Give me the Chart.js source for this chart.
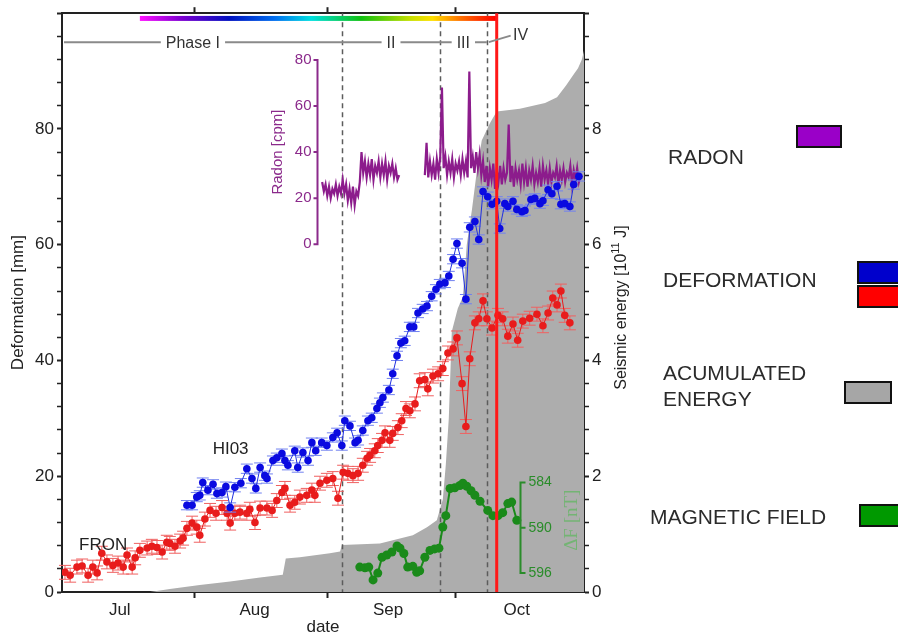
<!DOCTYPE html>
<html>
<head>
<meta charset="utf-8">
<title>Deformation, radon, magnetic field and seismic energy</title>
<script src="https://cdn.jsdelivr.net/npm/chart.js@4.4.1/dist/chart.umd.min.js"></script>
<style>
  html, body { margin: 0; padding: 0; background: #fff; }
  #wrap { position: relative; width: 898px; height: 638px; overflow: hidden; font-family: "Liberation Sans", Arial, sans-serif; }
  #chart { position: absolute; left: 0; top: 0; }
  .lg-text { position: absolute; font-size: 21px; line-height: 26px; color: #2b2b2b; white-space: nowrap; }
  .lg-box { position: absolute; box-sizing: border-box; border: 2px solid #111; height: 23px; }
</style>
</head>
<body>
<div id="wrap">
  <canvas id="chart" width="898" height="638"></canvas>

  <div class="lg-text" style="left:668px;top:144px">RADON</div>
  <div class="lg-box" style="left:796px;top:125px;width:46px;background:#9a00c8"></div>

  <div class="lg-text" style="left:663px;top:267px">DEFORMATION</div>
  <div class="lg-box" style="left:857px;top:261px;width:46px;background:#0000cc"></div>
  <div class="lg-box" style="left:857px;top:285px;width:46px;background:#ff0000"></div>

  <div class="lg-text" style="left:663px;top:360px">ACUMULATED<br>ENERGY</div>
  <div class="lg-box" style="left:844px;top:381px;width:48px;background:#a6a6a6"></div>

  <div class="lg-text" style="left:650px;top:504px">MAGNETIC FIELD</div>
  <div class="lg-box" style="left:859px;top:504px;width:46px;background:#009900"></div>
</div>

<script>
// days counted from 1 July
const monthNames = ['Jul', 'Aug', 'Sep', 'Oct'];
const monthLabelDays = [13.5, 45, 76.2, 106.3];
const monthBoundaries = [31, 62, 92];

// phases
const phaseBoundaries = [65.4, 88.3, 99.3];
const phaseNames = ['Phase I', 'II', 'III'];
const phaseLabelDays = [30.6, 76.9, 93.8];
const phaseLevel = 95;
const ivLabelDay = 107.2;
const ivLabelLevel = 96.3;
const eventDay = 101.6;
const colorBarStart = 18.2;
const colorBarLevel = 99.1;

// FRON station (red)
const redDays = [0.7,1.9,3.5,4.7,6.1,7.2,8.2,9.3,10.5,11.9,
  13.1,14.3,15.2,16.4,17.1,18.2,19.9,21.0,22.2,23.4,
  24.5,25.2,26.4,27.6,28.3,29.2,30.4,31.5,32.2,33.4,
  34.6,36.0,37.4,38.6,39.3,40.4,41.6,43.2,43.9,45.1,
  46.3,47.9,49.1,50.2,51.4,52.1,53.3,54.4,55.6,57.2,
  58.4,59.1,60.3,61.9,63.3,64.5,65.7,66.8,68.0,69.2,
  70.3,71.3,72.0,73.1,73.8,74.8,75.5,76.6,77.3,78.5,
  79.4,80.4,81.3,82.5,83.6,84.8,85.5,86.7,87.9,89.0,
  90.2,91.4,92.3,93.5,94.4,95.3,96.5,97.4,98.4,99.3,
  100.5,101.9,103.0,104.2,105.4,106.5,107.7,109.3,111.0,112.4,
  113.6,114.7,115.7,116.6,117.5,118.7];
const redValues = [3.4,2.9,4.3,4.5,2.9,4.3,3.3,6.7,5.2,4.6,
  5.0,4.3,6.4,4.3,5.9,7.2,7.6,7.9,7.7,6.9,
  8.6,8.4,7.9,8.8,9.3,11.0,11.9,11.2,9.8,12.6,
  14.1,13.6,14.6,13.6,11.9,13.6,13.8,13.6,14.3,12.0,
  14.5,14.5,14.1,15.8,17.2,17.9,15.0,15.5,16.4,16.7,
  17.6,16.7,18.8,19.3,19.6,16.2,20.7,20.5,20.1,20.5,
  21.9,23.1,23.6,24.4,25.3,26.2,27.5,26.2,27.4,28.4,
  29.6,31.7,31.3,32.5,36.5,36.7,35.1,37.3,37.7,38.6,
  41.3,42.0,43.9,36.0,28.6,40.3,46.5,47.2,50.3,47.2,
  45.6,47.8,47.2,44.2,46.3,43.5,46.8,47.3,48.0,46.0,
  48.2,50.8,49.6,52.0,47.8,46.5];
const redError = 1.2;

// HI03 station (blue)
const blueDays = [29.2,30.4,31.5,32.2,32.9,34.1,35.3,36.2,37.4,38.3,
  39.3,40.4,41.8,43.2,44.4,45.3,46.3,47.4,47.9,49.3,
  50.2,51.4,52.1,52.8,54.4,55.1,56.3,57.5,58.4,59.3,
  60.7,61.9,63.3,64.3,65.4,66.1,67.3,68.5,69.2,70.3,
  71.5,72.4,73.6,74.3,75.0,76.4,77.3,78.3,79.2,80.1,
  81.3,82.2,83.2,84.3,85.3,86.4,87.4,88.3,89.5,90.4,
  91.4,92.3,93.5,94.4,95.3,96.5,97.4,98.4,99.5,100.5,
  101.6,102.3,103.5,104.2,105.4,106.3,107.5,108.2,109.6,110.5,
  111.7,112.4,113.6,114.5,115.7,116.6,117.5,118.7,119.6,120.8];
const blueValues = [15.0,15.0,16.4,16.7,18.9,17.6,18.6,17.0,17.2,18.2,
  14.6,18.1,18.8,21.3,19.6,17.9,21.5,20.1,19.6,22.7,
  23.2,23.9,22.7,21.9,24.4,21.5,24.1,22.7,25.8,24.4,
  25.8,25.3,26.7,27.5,25.3,29.6,28.7,25.8,26.2,27.9,
  29.6,30.1,31.7,32.7,33.6,34.9,37.7,40.8,43.0,43.4,
  45.8,45.8,48.2,48.9,49.4,51.1,52.3,53.2,53.4,54.6,
  57.5,60.2,56.8,50.6,63.0,64.0,60.9,69.2,68.3,67.0,
  67.5,62.8,67.1,66.6,67.5,66.1,65.7,65.9,67.8,68.0,
  67.1,67.6,69.5,68.8,70.1,67.0,67.1,66.6,70.4,71.8];
const blueError = 0.8;

// accumulated seismic energy [10^11 J]
const energyDays = [20.6,25.2,32.2,39.3,46.3,51.6,52.3,55.6,62.6,65.0,
  65.4,74.3,82.0,85.3,87.6,89.0,89.7,90.4,91.1,92.5,
  93.7,94.6,95.8,97.0,98.1,100.0,101.6,107.0,112.9,115.7,
  117.8,119.2,120.6,121.5,122];
const energyValues = [0,0.05,0.12,0.18,0.25,0.30,0.58,0.60,0.67,0.70,
  0.81,0.84,0.98,1.12,1.24,1.6,2.2,3.0,4.5,4.9,
  5.1,6.0,6.6,7.3,7.8,8.1,8.3,8.35,8.45,8.55,
  8.75,8.9,9.05,9.2,9.35];

// radon [cpm], sampled every 0.4 day, two records with a gap
const radonStep = 0.4;
const radonStart1 = 60.8;
const radon1 = [27,23,26,21,25,20,24,22,26,21,25,22,28,
  22,26,19,24,18,25,17,23,21,27,40,
  31,36,29,35,30,37,28,34,31,36,29,35,30,36,28,34,31,35,29,33,28,30];
const radonStart2 = 84.8;
const radon2 = [30,44,29,36,30,35,28,37,31,38,68,
  33,38,30,36,31,37,29,35,32,
  36,30,37,31,36,29,75,33,38,
  31,40,33,39,30,36,
  27,34,25,33,28,35,24,32,27,34,26,33,28,31,
  52,
  27,34,25,33,28,32,26,35,27,33,25,32,28,34,26,31,27,33,25,34,
  28,32,26,33,27,31,29,34,26,32,28,33,27,31,29,34,26,32,28,33,27,30,29];
const radonTicks = [0, 20, 40, 60, 80];
const radonAxisDay = 59.6;

// magnetic field ΔF [nT]
const magDays = [69.6,70.8,71.7,72.7,73.8,74.8,75.9,77.1,78.3,79.0,
  79.9,80.8,82.0,82.9,83.6,84.8,86.0,87.1,88.1,89.0,
  89.7,90.7,91.8,93.0,93.7,94.6,95.6,96.5,97.7,99.5,
  100.7,101.9,103.0,104.2,105.1,106.3];
const magValues = [595.2,595.3,595.2,596.9,596.0,593.9,593.6,593.2,592.4,592.7,
  593.4,595.2,595.1,595.9,595.7,593.9,593.0,592.8,592.7,589.9,
  588.4,584.8,584.7,584.4,584.1,584.5,585.1,585.7,586.5,587.7,
  588.4,588.4,588.0,586.8,586.6,589.0];
const magTicks = [584, 590, 596];
const magAxisDay = 107.0;

const stationLabels = [
  { text: 'FRON', day: 9.6, level: 8.1 },
  { text: 'HI03', day: 39.4, level: 24.7 }
];

const FONT = '"Liberation Sans", Arial, sans-serif';
Chart.defaults.font.family = FONT;
Chart.defaults.color = '#222';

const toPoints = (days, vals) => days.map((d, i) => ({ x: d, y: vals[i] }));
const radonPoints = radon1.map((v, i) => ({ x: radonStart1 + i * radonStep, y: v }))
  .concat([{ x: (radonStart1 + radon1.length * radonStep + radonStart2) / 2, y: null }])
  .concat(radon2.map((v, i) => ({ x: radonStart2 + i * radonStep, y: v })));

// error bars under the deformation points
const errorBars = {
  id: 'errorBars',
  beforeDatasetDraw(chart, args) {
    const ds = chart.data.datasets[args.index];
    if (!ds.errorBar) return;
    const ys = chart.scales[args.meta.yAxisID];
    const ctx = chart.ctx;
    ctx.save();
    ctx.strokeStyle = ds.errorColor;
    ctx.lineWidth = 1;
    args.meta.data.forEach((pt, i) => {
      const v = ds.data[i].y;
      const t = ys.getPixelForValue(v + ds.errorBar);
      const b = ys.getPixelForValue(v - ds.errorBar);
      ctx.beginPath();
      ctx.moveTo(pt.x, t); ctx.lineTo(pt.x, b);
      ctx.moveTo(pt.x - 6, t); ctx.lineTo(pt.x + 6, t);
      ctx.moveTo(pt.x - 6, b); ctx.lineTo(pt.x + 6, b);
      ctx.stroke();
    });
    ctx.restore();
  }
};

const annotations = {
  id: 'annotations',
  afterDatasetDraw(chart, args) {
    if (args.index !== 0) return; // right after the energy area
    const { ctx, chartArea, scales: { x } } = chart;
    ctx.save();
    ctx.strokeStyle = '#5c5c5c';
    ctx.lineWidth = 1.5;
    ctx.setLineDash([5, 4]);
    phaseBoundaries.forEach(d => {
      const px = Math.round(x.getPixelForValue(d)) + 0.5;
      ctx.beginPath();
      ctx.moveTo(px, chartArea.top);
      ctx.lineTo(px, chartArea.bottom);
      ctx.stroke();
    });
    ctx.restore();
  },
  afterDatasetsDraw(chart) {
    const { ctx, chartArea, scales } = chart;
    const x = scales.x, y = scales.y;
    ctx.save();

    // colour bar
    const x0 = x.getPixelForValue(colorBarStart), x1 = x.getPixelForValue(eventDay);
    const grad = ctx.createLinearGradient(x0, 0, x1, 0);
    grad.addColorStop(0, '#ff10ff');
    grad.addColorStop(0.12, '#7a00d0');
    grad.addColorStop(0.25, '#0010c0');
    grad.addColorStop(0.38, '#0070f0');
    grad.addColorStop(0.48, '#00e0e0');
    grad.addColorStop(0.62, '#10c010');
    grad.addColorStop(0.76, '#c8e000');
    grad.addColorStop(0.82, '#ffe000');
    grad.addColorStop(0.9, '#ff7000');
    grad.addColorStop(1, '#ff0000');
    ctx.fillStyle = grad;
    const cy = y.getPixelForValue(colorBarLevel);
    ctx.fillRect(x0, cy - 2.5, x1 - x0, 5);

    // event line
    ctx.strokeStyle = '#ff1818';
    ctx.lineWidth = 3;
    const ex = x.getPixelForValue(eventDay);
    ctx.beginPath();
    ctx.moveTo(ex, chartArea.top);
    ctx.lineTo(ex, chartArea.bottom);
    ctx.stroke();

    // phase line with labels
    const py = y.getPixelForValue(phaseLevel);
    ctx.strokeStyle = '#8a8a8a';
    ctx.lineWidth = 2;
    ctx.beginPath();
    ctx.moveTo(chartArea.left + 2, py);
    ctx.lineTo(x.getPixelForValue(phaseBoundaries[2]), py);
    ctx.stroke();
    ctx.font = '16px ' + FONT;
    ctx.textAlign = 'center';
    ctx.textBaseline = 'middle';
    phaseNames.forEach((t, i) => {
      const lx = x.getPixelForValue(phaseLabelDays[i]);
      const w = ctx.measureText(t).width;
      ctx.fillStyle = '#fff';
      ctx.fillRect(lx - w / 2 - 5, py - 9, w + 10, 18);
      ctx.fillStyle = '#333';
      ctx.fillText(t, lx, py + 1);
    });
    const ivx = x.getPixelForValue(ivLabelDay), ivy = y.getPixelForValue(ivLabelLevel);
    ctx.beginPath();
    ctx.moveTo(x.getPixelForValue(phaseBoundaries[2]) + 2, py);
    ctx.lineTo(ivx - 10, ivy + 1);
    ctx.stroke();
    ctx.fillStyle = '#333';
    ctx.fillText('IV', ivx, ivy + 1);

    // station labels
    ctx.font = '17px ' + FONT;
    ctx.fillStyle = '#222';
    stationLabels.forEach(l => ctx.fillText(l.text, x.getPixelForValue(l.day), y.getPixelForValue(l.level)));

    // radon inset axis
    const rs = scales.yR;
    const rx = Math.round(x.getPixelForValue(radonAxisDay)) + 0.5;
    ctx.strokeStyle = '#8b2a8b';
    ctx.fillStyle = '#8b2a8b';
    ctx.lineWidth = 2;
    ctx.beginPath();
    ctx.moveTo(rx, rs.getPixelForValue(radonTicks[0]) + 1);
    ctx.lineTo(rx, rs.getPixelForValue(radonTicks[radonTicks.length - 1]) - 1);
    radonTicks.forEach(v => {
      const ty = rs.getPixelForValue(v);
      ctx.moveTo(rx, ty); ctx.lineTo(rx - 4, ty);
    });
    ctx.stroke();
    ctx.font = '15px ' + FONT;
    ctx.textAlign = 'right';
    radonTicks.forEach(v => ctx.fillText(String(v), rx - 6, rs.getPixelForValue(v)));
    ctx.save();
    ctx.translate(rx - 40, rs.getPixelForValue(40));
    ctx.rotate(-Math.PI / 2);
    ctx.textAlign = 'center';
    ctx.fillText('Radon [cpm]', 0, 0);
    ctx.restore();

    // magnetic inset axis
    const ms = scales.yM;
    const mx = Math.round(x.getPixelForValue(magAxisDay)) + 0.5;
    ctx.strokeStyle = '#2a8c2a';
    ctx.fillStyle = '#2a8c2a';
    ctx.beginPath();
    ctx.moveTo(mx, ms.getPixelForValue(magTicks[0]) - 1);
    ctx.lineTo(mx, ms.getPixelForValue(magTicks[magTicks.length - 1]) + 1);
    magTicks.forEach(v => {
      const ty = ms.getPixelForValue(v);
      ctx.moveTo(mx, ty); ctx.lineTo(mx + 5, ty);
    });
    ctx.stroke();
    ctx.font = '14px ' + FONT;
    ctx.textAlign = 'left';
    magTicks.forEach(v => ctx.fillText(String(v), mx + 8, ms.getPixelForValue(v)));
    ctx.save();
    ctx.translate(mx + 52, ms.getPixelForValue(589));
    ctx.rotate(-Math.PI / 2);
    ctx.textAlign = 'center';
    ctx.fillStyle = '#74b474';
    ctx.font = '19px "Liberation Serif", "DejaVu Serif", serif';
    ctx.fillText('\u0394F [nT]', 0, 0);
    ctx.restore();

    // right axis title with superscript
    ctx.save();
    ctx.translate(chartArea.right + 38, (chartArea.top + chartArea.bottom) / 2 + 5);
    ctx.rotate(-Math.PI / 2);
    ctx.fillStyle = '#222';
    ctx.textAlign = 'left';
    ctx.textBaseline = 'middle';
    const big = '16px ' + FONT, small = '11px ' + FONT;
    const p1 = 'Seismic energy [10', p2 = '11', p3 = ' J]';
    ctx.font = big; const w1 = ctx.measureText(p1).width, w3 = ctx.measureText(p3).width;
    ctx.font = small; const w2 = ctx.measureText(p2).width;
    let sx = -(w1 + w2 + w3) / 2;
    ctx.font = big; ctx.fillText(p1, sx, 0); sx += w1;
    ctx.font = small; ctx.fillText(p2, sx, -6); sx += w2;
    ctx.font = big; ctx.fillText(p3, sx, 0);
    ctx.restore();

    ctx.restore();
  }
};

const xTickDays = monthBoundaries.concat(monthLabelDays).sort((a, b) => a - b);

new Chart(document.getElementById('chart'), {
  type: 'line',
  data: {
    datasets: [
      {
        label: 'Accumulated energy',
        data: toPoints(energyDays, energyValues),
        yAxisID: 'yE',
        borderWidth: 0,
        borderColor: '#adadad',
        backgroundColor: '#adadad',
        fill: 'origin',
        pointRadius: 0,
        order: 10
      },
      {
        label: 'FRON',
        data: toPoints(redDays, redValues),
        yAxisID: 'y',
        borderColor: '#e81c1c',
        borderWidth: 1,
        backgroundColor: '#e81c1c',
        pointRadius: 3.8,
        pointBorderWidth: 0,
        errorBar: redError,
        errorColor: '#f06060',
        order: 4
      },
      {
        label: 'HI03',
        data: toPoints(blueDays, blueValues),
        yAxisID: 'y',
        borderColor: '#2030e0',
        borderWidth: 1,
        backgroundColor: '#0a0ae0',
        pointRadius: 3.8,
        pointBorderWidth: 0,
        errorBar: blueError,
        errorColor: '#7080f0',
        order: 3
      },
      {
        label: 'Radon',
        data: radonPoints,
        yAxisID: 'yR',
        borderColor: '#8c1c8c',
        borderWidth: 2.2,
        pointRadius: 0,
        spanGaps: false,
        order: 5
      },
      {
        label: 'Magnetic field',
        data: toPoints(magDays, magValues),
        yAxisID: 'yM',
        borderColor: '#1a8a1a',
        borderWidth: 2,
        backgroundColor: '#1a8a1a',
        pointRadius: 4.5,
        pointBorderWidth: 0,
        order: 1
      }
    ]
  },
  options: {
    responsive: false,
    animation: false,
    events: [],
    layout: { padding: { left: 0, top: 0, right: 264, bottom: 0 } },
    plugins: { legend: { display: false }, tooltip: { enabled: false } },
    scales: {
      x: {
        type: 'linear', position: 'bottom', min: 0, max: 122,
        afterBuildTicks: s => { s.ticks = xTickDays.map(v => ({ value: v })); },
        afterFit: s => { s.height = 46; },
        ticks: {
          autoSkip: false, maxRotation: 0, padding: 2, font: { size: 17 },
          callback: v => { const i = monthLabelDays.indexOf(v); return i >= 0 ? monthNames[i] : ''; }
        },
        grid: {
          drawOnChartArea: false, tickLength: 6, tickWidth: 2,
          tickColor: c => monthBoundaries.includes(c.tick && c.tick.value) ? '#222' : 'rgba(0,0,0,0)'
        },
        border: { color: '#222', width: 2 },
        title: { display: true, text: 'date', font: { size: 17 }, padding: { top: 0, bottom: 0 } }
      },
      xt: {
        type: 'linear', position: 'top', min: 0, max: 122,
        afterBuildTicks: s => { s.ticks = monthBoundaries.map(v => ({ value: v })); },
        afterFit: s => { s.height = 11; },
        ticks: { display: false },
        grid: { drawOnChartArea: false, tickLength: 6, tickWidth: 2, tickColor: '#222' },
        border: { color: '#222', width: 2 }
      },
      y: {
        position: 'left', min: 0, max: 100,
        afterFit: s => { s.width = 62; },
        ticks: {
          stepSize: 4, padding: 3, font: { size: 17 }, autoSkip: false,
          callback: v => (v % 20 === 0 && v <= 80) ? String(v) : ''
        },
        grid: {
          drawOnChartArea: false, tickLength: 5, tickColor: '#222',
          tickWidth: c => (c.tick && c.tick.value % 20 === 0) ? 2 : 1.5
        },
        border: { color: '#222', width: 2 },
        title: { display: true, text: 'Deformation [mm]', font: { size: 17 }, padding: { top: 8, bottom: 0 } }
      },
      yE: {
        position: 'right', min: 0, max: 10,
        afterFit: s => { s.width = 50; },
        ticks: {
          stepSize: 0.4, padding: 3, font: { size: 17 }, autoSkip: false,
          callback: v => (Math.abs(v / 2 - Math.round(v / 2)) < 1e-6 && v < 9) ? String(Math.round(v)) : ''
        },
        grid: {
          drawOnChartArea: false, tickLength: 5, tickColor: '#222',
          tickWidth: c => (c.tick && Math.abs(c.tick.value / 2 - Math.round(c.tick.value / 2)) < 1e-6) ? 2 : 1.5
        },
        border: { color: '#222', width: 2 }
      },
      yR: { display: false, min: -151, max: 100.3 },
      yM: { display: false, reverse: true, min: 521.9, max: 598.5 }
    }
  },
  plugins: [errorBars, annotations]
});
</script>
</body>
</html>
